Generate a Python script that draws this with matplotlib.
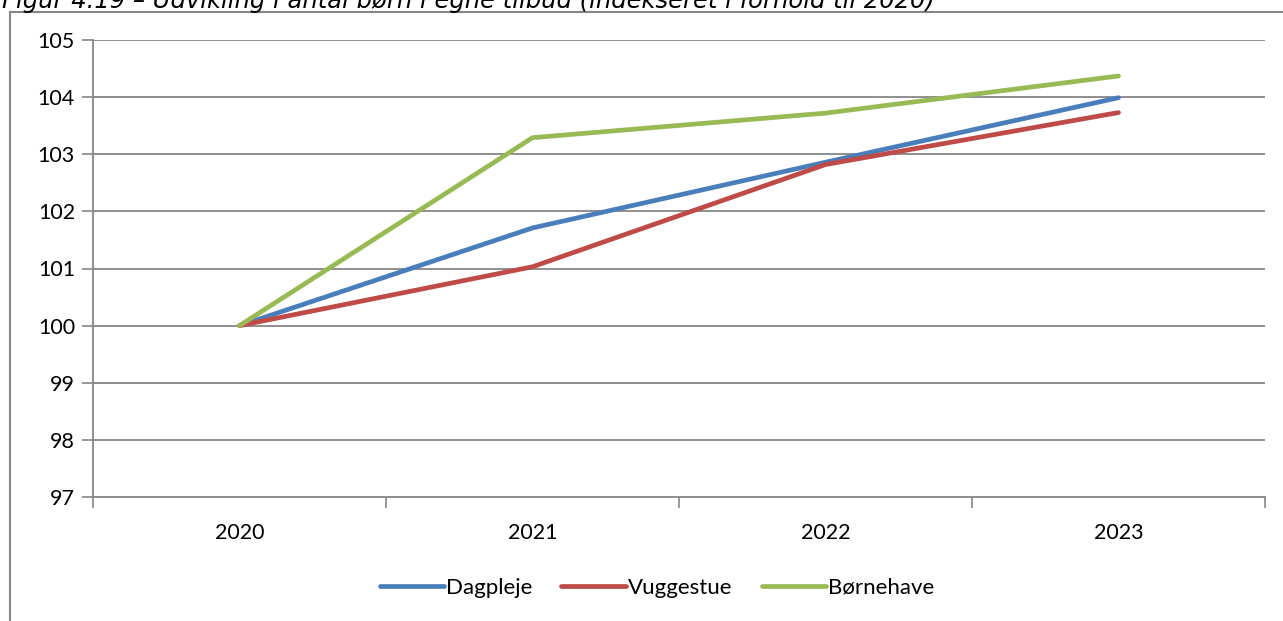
import matplotlib
matplotlib.use("Agg")
import matplotlib.pyplot as plt
from matplotlib.lines import Line2D

years = ["2020", "2021", "2022", "2023"]
dagpleje = [100.0, 101.71, 102.86, 103.99]
vuggestue = [100.0, 101.03, 102.82, 103.73]
boernehave = [100.0, 103.29, 103.72, 104.37]
yticks = [97, 98, 99, 100, 101, 102, 103, 104, 105]
title = "Figur 4.19 – Udvikling i antal børn i egne tilbud (indekseret i forhold til 2020)"

W, H = 1283, 621
fig = plt.figure(figsize=(W / 100, H / 100), dpi=100)
plt.rcParams['font.family'] = ['Lato', 'DejaVu Sans']

grid_c = "#868686"
# outer chart frame
fig.add_artist(Line2D([9.5 / W, 9.5 / W], [0, 1 - 12 / H], transform=fig.transFigure, color=grid_c, lw=1.5))
fig.add_artist(Line2D([9.5 / W, 1], [1 - 12 / H, 1 - 12 / H], transform=fig.transFigure, color=grid_c, lw=1.5))

fig.text(2 / W, 1 - 1 / H, title, ha="left", va="center", fontsize=17.5, style="italic",
         color="black", family=["DejaVu Sans"])

ax = fig.add_axes([93 / W, 1 - 497 / H, (1265 - 93) / W, (497 - 40) / H])
x = list(range(len(years)))
colors = ["#4A7EBB", "#BE4B48", "#98B954"]
names = ["Dagpleje", "Vuggestue", "Børnehave"]
for vals, c, n in zip([dagpleje, vuggestue, boernehave], colors, names):
    ax.plot(x, vals, color=c, lw=3.4, solid_capstyle="round", solid_joinstyle="round", label=n, zorder=3)

ax.set_xlim(-0.5, len(years) - 0.5)
ax.set_ylim(97, 105)
ax.set_yticks(yticks)
ax.set_yticklabels([str(v) for v in yticks], fontsize=15.5)
ax.set_xticks(x)
ax.set_xticklabels(years, fontsize=15.5)
ax.set_xticks([i - 0.5 for i in range(len(years) + 1)], minor=True)
ax.tick_params(axis="x", which="major", length=0, pad=19)
ax.tick_params(axis="x", which="minor", length=8, width=1.2, color=grid_c)
ax.tick_params(axis="y", length=8, width=1.2, color=grid_c, pad=5)
for t in yticks[1:]:
    ax.axhline(t, color=grid_c, lw=1.3, zorder=1)
for s in ["top", "right"]:
    ax.spines[s].set_visible(False)
for s in ["left", "bottom"]:
    ax.spines[s].set_color(grid_c)
    ax.spines[s].set_linewidth(1.3)

fig.legend(loc="center", bbox_to_anchor=(657 / W, 1 - 588 / H), ncol=3, frameon=False,
           fontsize=16, handlelength=2.9, handletextpad=0.1, columnspacing=1.3)

fig.savefig("out.png", dpi=100)
